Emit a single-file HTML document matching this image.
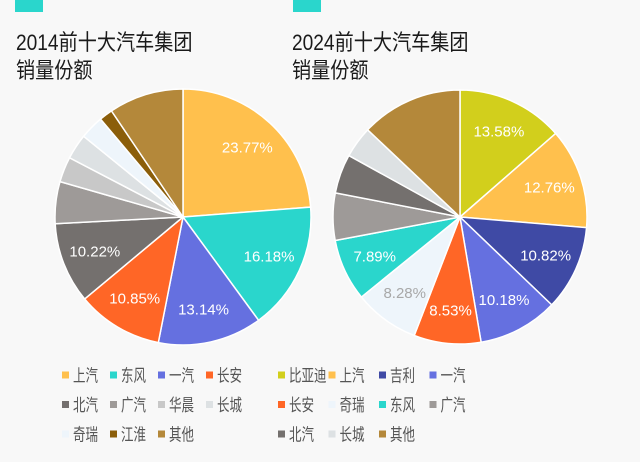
<!DOCTYPE html>
<html><head><meta charset="utf-8">
<style>
html,body{margin:0;padding:0;background:#f8f8f8;}
body{width:640px;height:462px;overflow:hidden;position:relative;font-family:"Liberation Sans","Noto Sans CJK SC",sans-serif;}
.bar{position:absolute;top:0;height:12px;width:28px;background:#2ad6cc;}
.title{position:absolute;font-size:22px;line-height:28px;color:#1a1a1a;transform:scaleX(0.87);transform-origin:0 0;white-space:nowrap;}
</style></head>
<body>
<div class="bar" style="left:15px"></div>
<div class="bar" style="left:293px"></div>
<div class="title" style="left:16px;top:29px">2014前十大汽车集团<br>销量份额</div>
<div class="title" style="left:292px;top:29px">2024前十大汽车集团<br>销量份额</div>
<svg id="chart" width="640" height="462" style="position:absolute;left:0;top:0"></svg>
<script>
const names2014 = ["上汽","东风","一汽","长安","北汽","广汽","华晨","长城","奇瑞","江淮","其他"];
const values2014 = [23.77,16.18,13.14,10.85,10.22,5.3,3.2,3.2,3.0,1.7,9.44];
const labels2014 = ["23.77%","16.18%","13.14%","10.85%","10.22%","","","","","",""];
const names2024 = ["比亚迪","上汽","吉利","一汽","长安","奇瑞","东风","广汽","北汽","长城","其他"];
const values2024 = [13.58,12.76,10.82,10.18,8.53,8.28,7.89,6.0,5.0,4.0,12.96];
const labels2024 = ["13.58%","12.76%","10.82%","10.18%","8.53%","8.28%","7.89%","","","",""];
const colorMap = {"上汽":"#ffc04d","东风":"#2ad6cc","一汽":"#6570e0","长安":"#ff6626","北汽":"#74706e","广汽":"#9e9a98","华晨":"#c8c8c8","长城":"#dde1e3","奇瑞":"#eef5fb","江淮":"#8b5e0a","其他":"#b4883a","比亚迪":"#d2cf1c","吉利":"#3f4aa5"};
const NS="http://www.w3.org/2000/svg";
const svg=document.getElementById('chart');
function mk(t,a){const e=document.createElementNS(NS,t);for(const k in a)e.setAttribute(k,a[k]);svg.appendChild(e);return e;}
function pie(names,values,labels,cx,cy,r,key){
  const tot=values.reduce((a,b)=>a+b,0);
  let acc=0;
  names.forEach((n,i)=>{
    const a0=acc/tot*2*Math.PI; acc+=values[i]; const a1=acc/tot*2*Math.PI;
    const p=(a)=>[cx+r*Math.sin(a),cy-r*Math.cos(a)];
    const [x0,y0]=p(a0),[x1,y1]=p(a1);
    const large=(a1-a0)>Math.PI?1:0;
    const s=mk('path',{d:`M${cx},${cy}L${x0},${y0}A${r},${r} 0 ${large} 1 ${x1},${y1}Z`,fill:colorMap[n],stroke:'#fff','stroke-width':1.5});
    
    
    if(labels[i]){
      const am=(a0+a1)/2, lr=r*0.74;
      const t=mk('text',{x:cx+lr*Math.sin(am),y:cy-lr*Math.cos(am)+5,'text-anchor':'middle','font-size':15,fill:n==="奇瑞"?'#a8a8a8':'#fff','font-family':'"Liberation Sans",sans-serif'});
      t.textContent=labels[i];
      
      
    }
  });
}
function legend(names,x0,y0,dx,dy,key){
  names.forEach((n,i)=>{
    const c=i%4,rw=Math.floor(i/4);
    const x=x0+c*dx,y=y0+rw*dy;
    const r=mk('rect',{x:x-3,y:y-3.5,width:7,height:7,fill:colorMap[n]});
    
    
    const t=mk('text',{x:x+8,y:y+6.5,'font-size':17,fill:'#555','font-family':'"Liberation Sans","Noto Sans CJK SC",sans-serif',textLength:(n.length*12.5),lengthAdjust:'spacingAndGlyphs'});
    t.textContent=n;
    
    
  });
}
pie(names2014,values2014,labels2014,183,217,128,'2014');
pie(names2024,values2024,labels2024,460,217,127,'2024');
legend(names2014,65,375,48,29.5,'2014');
legend(names2024,281,375,50.5,29.5,'2024');
</script>
</body></html>
